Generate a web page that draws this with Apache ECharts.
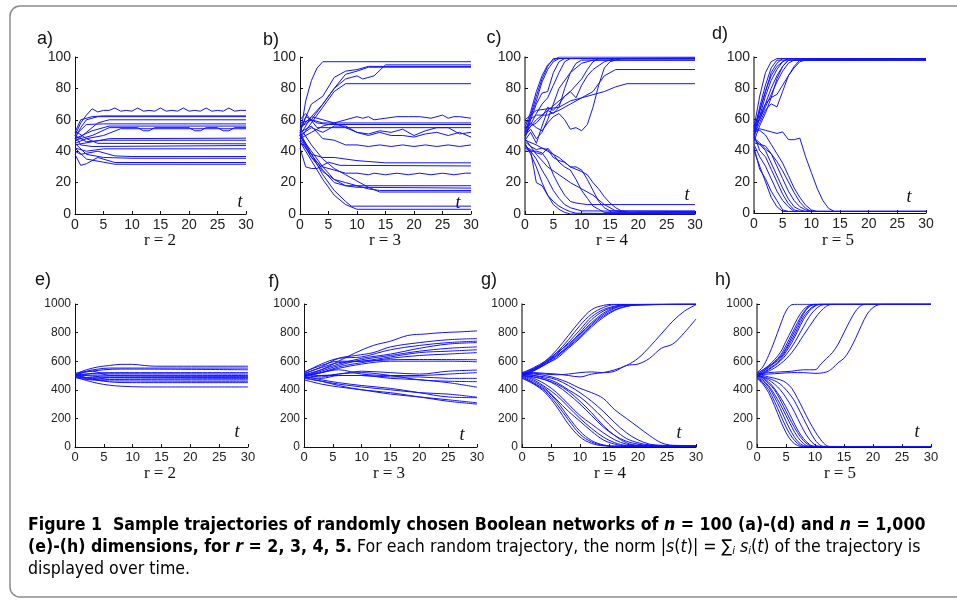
<!DOCTYPE html>
<html>
<head>
<meta charset="utf-8">
<script src="https://cdn.jsdelivr.net/npm/echarts@6.0.0/dist/echarts.min.js"></script>
<style>
  html, body { margin: 0; padding: 0; background: #fff; }
  #main { width: 957px; height: 600px; }
</style>
</head>
<body>
<div id="main"></div>
<script>
// trajectories, each one a list of [t, |s(t)|]
var panelA = [
  [[0,50],[1,58],[2,63],[3,67],[4,65],[5,66],[6,66],[7,67.5],[8,65.5],[9,66],[10,65.5],[11,67.5],[12,65.5],[13,66],[14,65.5],[15,67.5],[16,65.5],[17,66],[18,65.5],[19,67.5],[20,65.5],[21,66],[22,65.5],[23,67.5],[24,65.5],[25,66],[26,65.5],[27,67.5],[28,65.5],[29,66],[30,66]],
  [[0,48],[1,55],[2,60],[4,62],[30,62]],
  [[0,52],[1,60],[3,62],[5,62.5],[30,62.5]],
  [[0,46],[2,52],[4,58],[6,60],[30,60]],
  [[0,50],[2,57],[5,57.4],[30,57.4]],
  [[0,48],[3,53],[6,56],[30,56]],
  [[0,47],[3,50],[6,55],[11,55],[12,53],[13,53],[14,55],[20,55],[21,53],[22,53],[23,55],[25,55],[26,53],[27,53],[28,55],[30,55]],
  [[0,53],[2,48],[5,50],[8,54.3],[30,54.3]],
  [[0,44],[3,46],[6,48],[30,48.3]],
  [[0,50],[2,46],[5,47],[30,47]],
  [[0,45],[2,48],[4,45],[30,44.7]],
  [[0,50],[1,44],[3,43],[30,43.6]],
  [[0,42],[2,40],[5,41.5],[30,41.5]],
  [[0,40],[1,38],[4,40],[7,37],[10,36.6],[30,36.6]],
  [[0,45],[2,38],[5,36],[10,35.5],[30,35.5]],
  [[0,38],[1,31],[2,32],[4,36],[7,32.8],[30,32.8]],
  [[0,42],[2,35],[5,33],[7,31.7],[30,31.7]]
];
var panelB = [
  [[0,50],[1,72],[2,85],[3,93],[4,97],[30,97]],
  [[0,53],[2,70],[4,75],[6,87],[8,91],[10,92],[12,94],[30,94]],
  [[0,50],[2,62],[4,70],[6,80],[8,89],[10,91],[12,93.5],[30,93.5]],
  [[0,55],[2,60],[4,70],[6,80],[8,86],[10,88],[11,86],[13,88],[15,95],[30,95]],
  [[0,48],[2,58],[4,68],[6,78],[8,83],[30,83]],
  [[0,55],[2,62],[4,60],[6,58],[8,60],[10,62],[11,61],[12,62],[13,60],[15,61],[17,62],[19,62],[21,62],[23,61],[25,63],[26,61],[27,62],[28,62],[30,61]],
  [[0,58],[2,60],[4,58],[6,58],[30,58]],
  [[0,52],[1,62],[3,58],[5,57],[30,57]],
  [[0,60],[1,64],[3,55],[5,55],[30,55]],
  [[0,50],[2,55],[4,52],[6,56],[8,56],[10,52],[12,51],[14,53],[16,52],[18,54],[20,50],[22,53],[24,55],[26,55],[28,51],[30,52]],
  [[0,48],[2,52],[4,56],[6,58],[8,55],[10,52],[12,50],[14,52],[16,50],[18,50],[20,49],[22,51],[24,52],[26,50],[28,52],[30,49]],
  [[0,52],[2,56],[4,48],[6,47],[8,44],[10,44],[12,43],[14,44],[16,43],[18,44],[20,43],[22,44],[24,43],[26,44],[28,43],[30,44]],
  [[0,46],[2,38],[4,36],[6,36],[10,34],[15,32.6],[30,32.6]],
  [[0,42],[1,30],[2,29],[3,29],[5,33],[7,31],[30,30.6]],
  [[0,50],[2,36],[4,30],[6,28],[8,26],[10,26],[12,25],[13,26],[15,25],[17,26],[19,25],[21,26],[23,25],[25,26],[27,25],[29,26],[30,26]],
  [[0,52],[2,38],[4,28],[6,20],[8,18],[30,18]],
  [[0,50],[2,40],[4,30],[6,22],[8,18],[10,17],[30,16.5]],
  [[0,48],[2,36],[4,27],[6,22],[8,20],[10,18],[12,16],[14,15],[30,15]],
  [[0,55],[2,44],[4,35],[6,29],[8,25],[10,21],[12,17],[14,14],[30,14]],
  [[0,50],[2,38],[4,25],[6,15],[8,8],[9,5],[30,5]],
  [[0,46],[2,34],[4,22],[6,12],[8,6],[10,3],[30,3]]
];
var panelC = [
  [[0,55],[1,65],[2,78],[3,88],[4,95],[5,98],[6,100],[30,100]],
  [[0,52],[1,63],[2,75],[3,86],[4,94],[5,99],[30,99.5]],
  [[0,50],[1,62],[2,72],[3,84],[4,92],[5,97],[6,99],[30,99]],
  [[0,48],[1,60],[2,70],[3,77],[4,78],[5,90],[6,97],[7,99],[30,99]],
  [[0,55],[1,57],[2,64],[3,70],[4,74],[5,82],[6,90],[7,97],[8,99],[30,99]],
  [[0,52],[1,56],[2,60],[4,66],[5,64],[6,68],[7,80],[8,90],[9,96],[10,98],[30,98]],
  [[0,50],[1,54],[2,48],[3,52],[4,60],[5,70],[6,80],[8,90],[10,96],[12,98],[30,98]],
  [[0,47],[1,52],[2,45],[3,56],[4,66],[6,72],[8,78],[10,86],[11,92],[12,97],[13,99],[30,99]],
  [[0,50],[1,56],[2,58],[3,62],[4,68],[5,66],[6,70],[7,75],[8,78],[9,74],[10,82],[11,88],[12,92],[14,97],[16,99],[30,99]],
  [[0,54],[1,58],[2,55],[3,53],[4,58],[5,62],[6,64],[7,60],[8,54],[9,55],[10,53],[11,57],[12,68],[13,82],[14,93],[15,97],[17,99],[30,99]],
  [[0,58],[2,63],[4,63],[6,66],[8,70],[10,74],[12,78],[14,88],[16,92],[30,92]],
  [[0,60],[2,66],[4,67],[6,68],[8,72],[10,74],[12,76],[14,78],[16,81],[18,83],[30,83]],
  [[0,45],[1,38],[2,30],[3,20],[4,12],[5,6],[6,3],[7,1],[8,0],[30,0]],
  [[0,44],[1,40],[2,20],[3,18],[4,12],[5,8],[6,5],[7,3],[8,1.5],[9,0.5],[30,0]],
  [[0,42],[1,40],[2,35],[3,28],[4,22],[5,15],[6,10],[7,6],[8,4],[10,2],[30,1.5]],
  [[0,40],[1,40],[2,40],[3,39],[4,34],[5,25],[6,18],[7,12],[8,8],[9,7],[10,6.5],[11,6],[30,6]],
  [[0,43],[1,41],[2,39],[3,38],[4,42],[5,38],[6,33],[7,30],[8,28],[9,22],[10,15],[11,10],[12,5],[13,3],[14,1],[30,1]],
  [[0,46],[1,43],[2,41],[3,42],[4,41],[5,36],[6,34],[7,33],[8,30],[9,30],[10,28],[11,22],[12,15],[13,8],[14,4],[15,2],[30,2]],
  [[0,47],[2,44],[4,40],[6,36],[8,30],[10,27],[11,25],[12,20],[13,16],[14,11],[15,7],[16,4],[17,2],[19,0.5],[30,0.5]],
  [[0,48],[2,38],[4,30],[6,25],[8,20],[10,16],[12,12],[14,6],[16,2],[18,1],[30,1]]
];
var panelD = [
  [[0,55],[1,75],[2,90],[3,97],[4,99],[30,99]],
  [[0,52],[1,68],[2,82],[3,93],[4,98],[30,98.5]],
  [[0,50],[1,65],[2,78],[3,90],[4,96],[5,99],[30,99]],
  [[0,48],[1,62],[2,75],[3,85],[4,92],[5,97],[6,99],[30,99]],
  [[0,53],[1,60],[2,70],[3,80],[4,88],[5,94],[6,98],[30,98]],
  [[0,56],[1,60],[2,68],[3,76],[4,84],[5,91],[6,96],[7,98],[30,98]],
  [[0,50],[1,58],[2,66],[3,70],[4,68],[5,78],[6,88],[7,94],[8,98],[30,98]],
  [[0,58],[1,62],[2,70],[3,74],[4,76],[5,82],[6,88],[7,93],[8,97],[9,98],[30,98.5]],
  [[0,46],[1,56],[2,64],[3,74],[4,86],[5,94],[6,98],[30,99]],
  [[0,54],[1,66],[2,78],[3,88],[4,94],[5,97],[6,99],[30,99]],
  [[0,53],[1,54],[2,53],[3,52],[4,51],[5,52],[6,47],[7,47],[8,48],[9,36],[10,26],[11,16],[12,8],[13,3],[14,1],[30,1]],
  [[0,52],[1,53],[2,50],[3,44],[4,38],[5,32],[6,24],[7,16],[8,10],[9,5],[10,2],[11,1],[30,1]],
  [[0,48],[1,45],[2,41],[3,38],[4,33],[5,27],[6,20],[7,13],[8,7],[9,3],[10,1],[30,1]],
  [[0,47],[1,44],[2,43],[3,38],[4,30],[5,22],[6,14],[7,8],[8,4],[9,2],[10,1],[30,1]],
  [[0,45],[1,44],[2,40],[3,32],[4,24],[5,16],[6,9],[7,4],[8,2],[9,1],[30,1]],
  [[0,50],[1,40],[2,36],[3,28],[4,20],[5,12],[6,6],[7,2],[8,1],[30,1]],
  [[0,44],[1,36],[2,30],[3,22],[4,14],[5,8],[6,4],[7,1],[30,1]],
  [[0,42],[1,28],[2,22],[3,14],[4,8],[5,2],[6,1],[30,1]],
  [[0,40],[1,30],[2,20],[3,10],[4,4],[5,1],[30,1]]
];
var panelE = [
  [[0,510],[2,540],[4,560],[6,570],[8,578],[10,578],[12,570],[14,565],[30,565]],
  [[0,500],[2,530],[4,545],[6,552],[10,552],[30,552]],
  [[0,505],[2,525],[5,540],[8,545],[30,540]],
  [[0,495],[3,515],[6,520],[30,520]],
  [[0,505],[3,512],[30,510]],
  [[0,500],[3,502],[30,500]],
  [[0,510],[3,495],[6,490],[30,490]],
  [[0,490],[3,485],[30,480]],
  [[0,500],[3,480],[6,472],[30,470]],
  [[0,495],[3,470],[6,462],[30,460]],
  [[0,505],[3,475],[6,455],[10,450],[30,450]],
  [[0,490],[2,465],[4,445],[6,432],[8,425],[12,420],[30,420]],
  [[0,515],[3,530],[6,500],[30,495]],
  [[0,485],[3,470],[6,485],[30,485]]
];
var panelF = [
  [[0,500],[3,540],[6,600],[9,660],[12,710],[15,740],[18,780],[21,790],[24,800],[27,805],[30,812]],
  [[0,510],[3,560],[6,620],[9,640],[12,660],[15,700],[20,730],[25,750],[30,758]],
  [[0,520],[3,580],[6,620],[10,630],[15,680],[20,710],[25,730],[30,740]],
  [[0,505],[3,540],[6,580],[10,620],[15,650],[20,690],[25,720],[30,730]],
  [[0,495],[3,530],[6,570],[10,610],[15,640],[20,670],[25,690],[30,700]],
  [[0,515],[3,555],[6,590],[10,600],[15,630],[20,660],[25,670],[30,680]],
  [[0,500],[3,520],[6,560],[10,590],[15,620],[20,640],[25,650],[30,660]],
  [[0,525],[3,570],[6,600],[10,600],[15,610],[20,612],[30,610]],
  [[0,490],[3,520],[6,550],[10,580],[15,600],[20,600],[25,600],[30,596]],
  [[0,510],[3,500],[6,510],[10,530],[15,520],[20,510],[25,530],[30,538]],
  [[0,500],[3,520],[6,540],[10,510],[15,500],[20,500],[25,510],[30,520]],
  [[0,480],[3,500],[6,500],[10,500],[15,490],[20,490],[25,480],[30,480]],
  [[0,505],[3,490],[6,510],[10,520],[15,500],[20,470],[25,460],[30,457]],
  [[0,490],[3,480],[6,500],[10,500],[15,480],[20,470],[25,450],[30,418]],
  [[0,480],[3,460],[6,440],[10,420],[15,400],[20,380],[25,370],[30,348]],
  [[0,470],[3,440],[6,420],[10,400],[15,370],[20,350],[25,330],[30,309]],
  [[0,485],[3,460],[6,430],[10,400],[15,380],[20,350],[25,320],[30,300]],
  [[0,495],[3,470],[6,450],[10,430],[15,410],[20,380],[25,350],[30,345]]
];
var panelG = [
  [[0,500],[2,540],[4,600],[6,680],[8,780],[10,880],[12,960],[14,990],[16,998],[30,998]],
  [[0,505],[2,540],[4,590],[6,660],[8,750],[10,850],[12,930],[14,975],[16,995],[30,998]],
  [[0,510],[2,545],[4,590],[6,650],[8,730],[10,820],[12,910],[14,960],[16,985],[18,995],[30,998]],
  [[0,495],[2,530],[4,580],[6,640],[8,710],[10,800],[12,890],[14,950],[16,980],[18,995],[30,998]],
  [[0,515],[2,555],[4,600],[6,660],[8,720],[10,790],[12,870],[14,935],[16,975],[18,992],[30,998]],
  [[0,500],[2,535],[4,575],[6,630],[8,700],[10,780],[12,860],[14,925],[16,970],[18,990],[30,998]],
  [[0,520],[2,550],[4,590],[6,640],[8,700],[10,770],[12,850],[14,915],[16,960],[18,985],[20,995],[30,998]],
  [[0,510],[2,540],[4,580],[6,620],[8,690],[10,760],[12,840],[14,905],[16,955],[18,982],[20,994],[30,998]],
  [[0,520],[2,520],[4,515],[6,510],[8,500],[10,490],[12,510],[14,520],[16,540],[18,570],[20,620],[22,700],[24,790],[26,880],[28,950],[30,995]],
  [[0,505],[2,515],[4,510],[6,505],[8,510],[10,520],[12,525],[14,520],[16,530],[18,570],[20,580],[22,620],[24,690],[26,720],[28,800],[30,895]],
  [[0,480],[2,440],[4,380],[6,280],[8,160],[10,70],[12,25],[14,8],[16,5],[30,5]],
  [[0,485],[2,445],[4,390],[6,300],[8,190],[10,90],[12,35],[14,12],[16,5],[30,5]],
  [[0,490],[2,450],[4,400],[6,320],[8,210],[10,110],[12,45],[14,15],[16,6],[30,6]],
  [[0,495],[2,460],[4,410],[6,330],[8,250],[10,180],[12,110],[14,50],[16,20],[18,8],[30,6]],
  [[0,500],[2,470],[4,420],[6,360],[8,280],[10,200],[12,130],[14,70],[16,30],[18,12],[30,8]],
  [[0,500],[2,480],[4,440],[6,380],[8,300],[10,220],[12,160],[14,100],[16,50],[18,20],[20,10],[30,8]],
  [[0,505],[2,490],[4,470],[6,430],[8,370],[10,300],[12,220],[14,140],[16,80],[18,40],[20,20],[22,10],[30,8]],
  [[0,510],[2,500],[4,480],[6,450],[8,400],[10,350],[12,280],[14,200],[16,120],[18,60],[20,30],[22,15],[30,8]],
  [[0,515],[2,500],[4,490],[6,470],[8,430],[10,380],[12,320],[14,250],[16,170],[18,100],[20,50],[22,20],[24,10],[30,8]],
  [[0,510],[2,510],[4,500],[6,480],[8,450],[10,410],[12,380],[14,340],[16,260],[18,200],[20,140],[22,80],[24,30],[26,12],[30,10]],
  [[0,500],[2,490],[4,470],[6,440],[8,390],[10,320],[12,240],[14,150],[16,80],[18,30],[20,12],[30,8]]
];
var panelH = [
  [[0,520],[1,560],[2,640],[3,740],[4,850],[5,950],[6,995],[7,998],[30,998]],
  [[0,510],[2,570],[4,660],[5,740],[6,820],[7,900],[8,960],[9,990],[10,998],[30,998]],
  [[0,500],[2,560],[4,640],[5,710],[6,790],[7,870],[8,940],[9,985],[10,998],[30,998]],
  [[0,505],[2,555],[4,630],[5,690],[6,770],[7,850],[8,930],[9,980],[10,995],[30,998]],
  [[0,515],[2,565],[4,620],[6,750],[7,830],[8,910],[9,960],[10,990],[11,998],[30,998]],
  [[0,495],[2,545],[4,610],[6,730],[7,810],[8,890],[9,950],[10,985],[11,998],[30,998]],
  [[0,490],[2,540],[4,600],[6,700],[8,840],[9,910],[10,960],[11,990],[12,998],[30,998]],
  [[0,500],[2,530],[4,580],[6,660],[8,780],[10,900],[11,950],[12,985],[13,998],[30,998]],
  [[0,510],[2,520],[4,525],[6,530],[8,540],[10,540],[11,580],[12,620],[13,660],[14,720],[15,800],[16,880],[17,950],[18,990],[19,998],[30,998]],
  [[0,505],[2,510],[4,515],[6,520],[8,520],[10,515],[12,525],[13,550],[14,590],[15,620],[16,680],[17,760],[18,850],[19,930],[20,975],[21,995],[22,998],[30,998]],
  [[0,480],[1,440],[2,380],[3,290],[4,190],[5,100],[6,40],[7,10],[8,2],[30,2]],
  [[0,485],[1,450],[2,400],[3,320],[4,230],[5,140],[6,70],[7,25],[8,5],[30,2]],
  [[0,490],[1,460],[2,420],[3,350],[4,270],[5,180],[6,100],[7,40],[8,10],[9,2],[30,2]],
  [[0,495],[1,470],[2,430],[3,370],[4,300],[5,220],[6,140],[7,70],[8,25],[9,5],[30,2]],
  [[0,500],[1,480],[2,445],[3,400],[4,330],[5,250],[6,170],[7,100],[8,45],[9,12],[10,2],[30,2]],
  [[0,498],[1,485],[2,455],[3,410],[4,350],[5,280],[6,200],[7,120],[8,60],[9,20],[10,4],[30,2]],
  [[0,505],[2,470],[4,400],[6,280],[7,200],[8,120],[9,55],[10,15],[11,3],[30,2]],
  [[0,500],[2,480],[4,440],[6,350],[7,280],[8,200],[9,120],[10,50],[11,10],[12,2],[30,2]],
  [[0,510],[2,490],[4,470],[5,450],[6,410],[7,340],[8,260],[9,180],[10,110],[11,50],[12,10],[13,2],[30,2]]
];

var panels = [panelA, panelB, panelC, panelD, panelE, panelF, panelG, panelH];
var panelNames = ['a)', 'b)', 'c)', 'd)', 'e)', 'f)', 'g)', 'h)'];
var rLabels = ['r = 2', 'r = 3', 'r = 4', 'r = 5', 'r = 2', 'r = 3', 'r = 4', 'r = 5'];
var yMax = [100, 100, 100, 100, 1000, 1000, 1000, 1000];
var tMax = 30;

// plot boxes in px
var boxes = [
  {left: 75, top: 57, width: 171, height: 157},
  {left: 300, top: 57, width: 171, height: 157},
  {left: 525, top: 57, width: 170, height: 157},
  {left: 754, top: 57, width: 172, height: 156},
  {left: 75, top: 304, width: 173, height: 143},
  {left: 304, top: 304, width: 173, height: 143},
  {left: 522, top: 304, width: 174, height: 143},
  {left: 757, top: 304, width: 174, height: 143}
];
var nameXY = [[45,39],[271,40],[494,38],[720,34],[43,280],[274,282],[489,280],[723,280]];
var tXY = [[240,202],[458,203],[687,195],[909,197],[237,432],[462,435],[679,433],[917,432]];
var rX = [160, 385, 612, 838, 160, 389, 610, 840];

var lineColor = '#1212ff';
var grid = [], xAxis = [], yAxis = [], series = [], graphic = [];
var plain = function (v) { return String(v); };

panels.forEach(function (trajs, i) {
  var big = yMax[i] > 100;
  var axisCol = (i % 4 >= 2) ? '#555' : '#111';
  grid.push(boxes[i]);
  xAxis.push({
    type: 'value', gridIndex: i, min: 0, max: tMax, interval: 5,
    axisLine: {show: true, onZero: false, lineStyle: {color: '#111', width: 1}},
    axisTick: {show: true, inside: true, length: 3, lineStyle: {color: '#111'}},
    splitLine: {show: false},
    axisLabel: {fontSize: big ? 13 : 14, color: '#222', fontFamily: 'Liberation Sans', margin: 4, formatter: plain}
  });
  yAxis.push({
    type: 'value', gridIndex: i, min: 0, max: yMax[i], interval: yMax[i] / 5,
    axisLine: {show: true, onZero: false, lineStyle: {color: axisCol, width: (i % 4 >= 2) ? 1.5 : 1}},
    axisTick: {show: true, inside: true, length: 3, lineStyle: {color: '#111'}},
    splitLine: {show: false},
    axisLabel: {fontSize: big ? 12 : 14, color: '#222', fontFamily: 'Liberation Sans', margin: 4, formatter: plain}
  });
  trajs.forEach(function (tr) {
    series.push({
      type: 'line', xAxisIndex: i, yAxisIndex: i, data: tr,
      showSymbol: false, symbol: 'none', smooth: big ? 0.35 : false,
      lineStyle: {color: lineColor, width: 1}, silent: true
    });
  });
  graphic.push({type: 'text', x: nameXY[i][0], y: nameXY[i][1],
    style: {text: panelNames[i], font: '18px "Liberation Sans"', fill: '#111', align: 'center', verticalAlign: 'middle'}});
  graphic.push({type: 'text', x: rX[i], y: i < 4 ? 241 : 474,
    style: {text: rLabels[i], font: '17px "Liberation Serif"', fill: '#111', align: 'center', verticalAlign: 'middle'}});
  graphic.push({type: 'text', x: tXY[i][0], y: tXY[i][1],
    style: {text: 't', font: 'italic 18px "Liberation Serif"', fill: '#111', align: 'center', verticalAlign: 'middle'}});
});

// frame
graphic.push({type: 'rect', shape: {x: 10, y: 6, width: 1000, height: 591, r: 10},
  style: {fill: 'none', stroke: '#8c8c8c', lineWidth: 1.5}, z: -1});

var capFont = '"DejaVu Sans Condensed", "Noto Sans", sans-serif';
var capSize = 17.6;
var rich = {
  b: {fontFamily: capFont, fontWeight: 'bold', fontSize: capSize, color: '#231f20'},
  bi: {fontFamily: capFont, fontWeight: 'bold', fontStyle: 'italic', fontSize: capSize, color: '#231f20'},
  n: {fontFamily: capFont, fontSize: capSize, color: '#555'},
  i: {fontFamily: capFont, fontStyle: 'italic', fontSize: capSize, color: '#555'},
  sub: {fontFamily: capFont, fontStyle: 'italic', fontSize: 11, color: '#555', padding: [8, 0, 0, 0]}
};
var capLines = [
  '{b|Figure 1  Sample trajectories of randomly chosen Boolean networks of }{bi|n}{b| = 100 (a)-(d) and }{bi|n}{b| = 1,000}',
  '{b|(e)-(h) dimensions, for }{bi|r}{b| = 2, 3, 4, 5.}{n| For each random trajectory, the norm |}{i|s}{n|(}{i|t}{n|)| = ∑}{sub|i}{n| }{i|s}{sub|i}{n|(}{i|t}{n|) of the trajectory is}',
  '{n|displayed over time.}'
];
var capY = [525, 547, 569];
capLines.forEach(function (txt, k) {
  graphic.push({type: 'text', x: 28, y: capY[k],
    style: {text: txt, rich: rich, align: 'left', verticalAlign: 'middle', font: capSize + 'px ' + capFont}});
});

var chart = echarts.init(document.getElementById('main'), null, {renderer: 'canvas'});
chart.setOption({
  animation: false,
  backgroundColor: '#fff',
  grid: grid,
  xAxis: xAxis,
  yAxis: yAxis,
  series: series,
  graphic: graphic
});
</script>
</body>
</html>
